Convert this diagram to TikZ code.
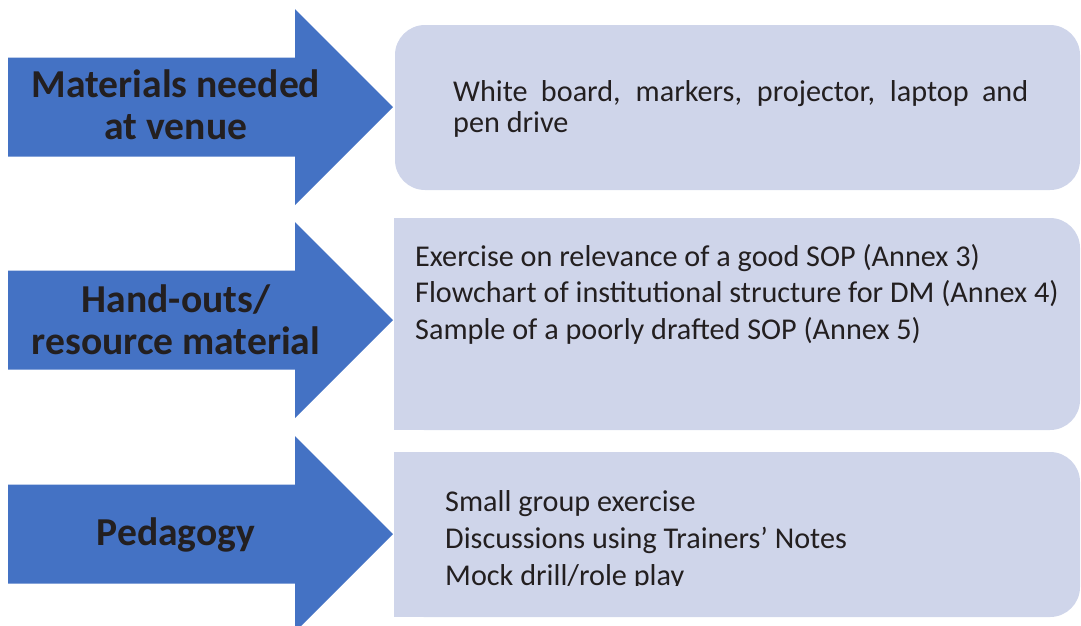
\documentclass[tikz,border=0pt]{standalone}
\usepackage{fontspec}
\setmainfont{Carlito}
\definecolor{arrowblue}{HTML}{4472C4}
\definecolor{boxfill}{HTML}{CFD5EA}
\definecolor{ink}{HTML}{231F20}
\tikzset{
  bigarrow/.style={fill=arrowblue},
  panel/.style={fill=boxfill},
  label/.style={inner sep=0pt, text=ink, align=center, anchor=base,
    font=\bfseries\fontsize{39.6}{42}\selectfont},
  itemtext/.style={inner sep=0pt, text=ink, align=left, anchor=base west,
    font=\fontsize{30.2}{36.5}\selectfont},
}
\newcommand\drawbigarrow[1]{%
  \fill[bigarrow] (8,{#1-49.5}) -- (295,{#1-49.5}) -- (295,{#1-98}) -- (393,#1)
    -- (295,{#1+98}) -- (295,{#1+49.5}) -- (8,{#1+49.5}) -- cycle;}
\begin{document}
\begin{tikzpicture}[x=1pt,y=-1pt]
\useasboundingbox (0,0) rectangle (1081,625);
\clip (0,0) rectangle (1081,625);
% arrows
\drawbigarrow{107}
\drawbigarrow{320}
\drawbigarrow{534}
% panels
\fill[panel, rounded corners=30pt] (395,25) rectangle (1080,190);
\fill[panel, rounded corners=30pt] (394,218) rectangle (1080,430);
\fill[panel] (394,218) rectangle (470,430);
\fill[panel, rounded corners=30pt] (394,452) rectangle (1080,617);
\fill[panel] (394,452) rectangle (470,617);
% arrow labels (base anchor = last line)
\node[label] (l1) at (176,139) {Materials needed\\at venue};
\node[label] (l2) at (176,354) {Hand-outs/\\resource material};
\node[label] (l3) at (176,545) {Pedagogy};
% panel texts
\node[itemtext, text width=575pt, align=justify, font=\fontsize{30.2}{31}\selectfont] (t1) at (453,101)
  {White board, markers, projector, laptop and pen drive};
\node[itemtext] (t2) at (415,339)
  {Exercise on relevance of a good SOP (Annex 3)\\
   Flowchart of institutional structure for DM (Annex 4)\\
   Sample of a poorly drafted SOP (Annex 5)};
\begin{scope}
\clip (394,452) rectangle (1080,585);
\node[itemtext, font=\fontsize{30.2}{37}\selectfont] (t3) at (445,585)
  {Small group exercise\\
   Discussions using Trainers’ Notes\\
   Mock drill/role play};
\end{scope}
\end{tikzpicture}
\end{document}
